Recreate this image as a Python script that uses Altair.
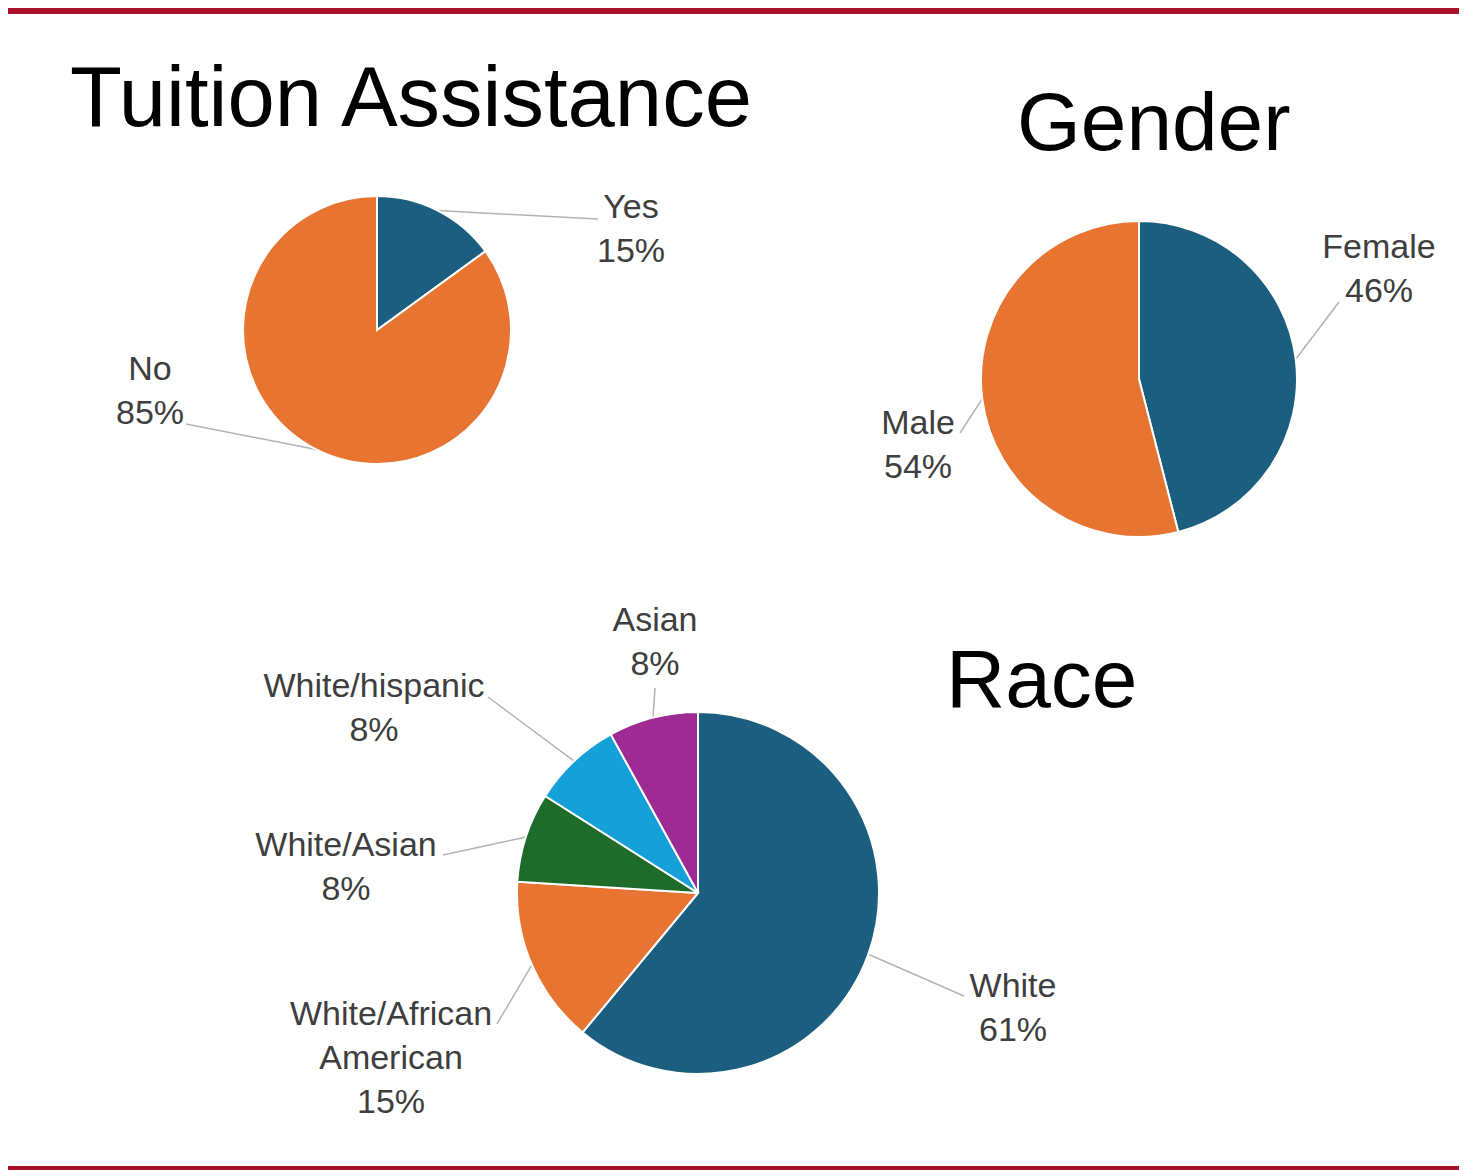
import altair as alt
import pandas as pd

# ---------------- data ----------------
tuition_cats = ["Yes", "No"]
tuition_vals = [15, 85]

gender_cats = ["Female", "Male"]
gender_vals = [46, 54]

race_cats = ["White", "White/African American", "White/Asian", "White/hispanic", "Asian"]
race_vals = [61, 15, 8, 8, 8]

titles = ["Tuition Assistance", "Gender", "Race"]

# ---------------- styles / layout ----------------
BLUE, ORANGE, GREEN, SKY, PURPLE = "#1c5e80", "#e87431", "#1f6b29", "#15a0da", "#9d2b93"
RED = "#a8102c"
M = 8                      # page margin
W, H = 1451, 1162          # drawing area

pies = [
    dict(cats=tuition_cats, vals=tuition_vals, colors=[BLUE, ORANGE],
         cx=377, cy=330, r=134,
         text_xy=[(631, 218), (150, 380)],
         end_xy=[(598, 219), (186, 424)]),
    dict(cats=gender_cats, vals=gender_vals, colors=[BLUE, ORANGE],
         cx=1139, cy=379, r=158,
         text_xy=[(1379, 258), (918, 434)],
         end_xy=[(1339, 302), (960, 433)]),
    dict(cats=race_cats, vals=race_vals, colors=[BLUE, ORANGE, GREEN, SKY, PURPLE],
         cx=698, cy=893, r=181,
         text_xy=[(1013, 997), (391, 1025), (346, 856), (374, 697), (655, 631)],
         end_xy=[(964, 996), (497, 1024), (443, 855), (488, 697), (655, 688)]),
]

title_layout = [(70, 126, 85), (1017, 150, 82), (946, 707, 82)]

layers = []

# red decorative bars
bar_df = pd.DataFrame({"k": [0]})
layers.append(alt.Chart(bar_df).mark_rect(color=RED).encode(
    x=alt.value(0), x2=alt.value(W), y=alt.value(0), y2=alt.value(14 - M)))
layers.append(alt.Chart(bar_df).mark_rect(color=RED).encode(
    x=alt.value(0), x2=alt.value(W), y=alt.value(1166 - M), y2=alt.value(H)))

for p in pies:
    df = pd.DataFrame({
        "cat": p["cats"],
        "value": p["vals"],
        "idx": list(range(len(p["cats"]))),
        "color": p["colors"],
        "label": [c.replace(" ", "\n") + "\n" + f"{v}%" for c, v in zip(p["cats"], p["vals"])],
        "tx": [t[0] - M for t in p["text_xy"]],
        "ty": [t[1] - M for t in p["text_xy"]],
        "ex": [e[0] - M for e in p["end_xy"]],
        "ey": [e[1] - M for e in p["end_xy"]],
    })
    cx, cy, r = p["cx"] - M, p["cy"] - M, p["r"]

    arc = alt.Chart(df).mark_arc(radius=r, stroke="white", strokeWidth=2).encode(
        theta=alt.Theta("value:Q", stack=True),
        order=alt.Order("idx:Q"),
        color=alt.Color("color:N", scale=None),
        x=alt.value(cx), y=alt.value(cy),
    )

    lines = alt.Chart(df).transform_joinaggregate(
        total="sum(value)"
    ).transform_window(
        cum="sum(value)", sort=[alt.SortField("idx")], frame=[None, 0]
    ).transform_calculate(
        mid="(datum.cum - datum.value/2) / datum.total * 2 * PI"
    ).transform_calculate(
        sx=f"{cx} + {r} * sin(datum.mid)"
    ).transform_calculate(
        sy=f"{cy} - {r} * cos(datum.mid)"
    ).mark_rule(color="#b3b3b3", strokeWidth=1.5).encode(
        x=alt.X("sx:Q", scale=None, axis=None),
        y=alt.Y("sy:Q", scale=None, axis=None),
        x2="ex:Q", y2="ey:Q",
    )

    labels = alt.Chart(df).mark_text(
        font="Liberation Sans", fontSize=34, color="#3e3e3e", align="center",
        baseline="alphabetic", lineBreak="\n", lineHeight=44,
    ).encode(
        x=alt.X("tx:Q", scale=None, axis=None),
        y=alt.Y("ty:Q", scale=None, axis=None),
        text="label:N",
    )
    layers += [lines, arc, labels]

title_df = pd.DataFrame({
    "title": titles,
    "x": [t[0] - M for t in title_layout],
    "y": [t[1] - M for t in title_layout],
    "fs": [t[2] for t in title_layout],
})
layers.append(alt.Chart(title_df).mark_text(
    font="Liberation Sans", color="black", align="left", baseline="alphabetic"
).encode(
    x=alt.X("x:Q", scale=None, axis=None),
    y=alt.Y("y:Q", scale=None, axis=None),
    size=alt.Size("fs:Q", scale=None, legend=None),
    text="title:N",
))

chart = alt.layer(*layers).resolve_scale(theta="independent").properties(
    width=W, height=H, padding=0, autosize="none"
).configure_view(strokeWidth=0)

chart.save("out.html", embed_options={"renderer": "svg", "actions": False})
